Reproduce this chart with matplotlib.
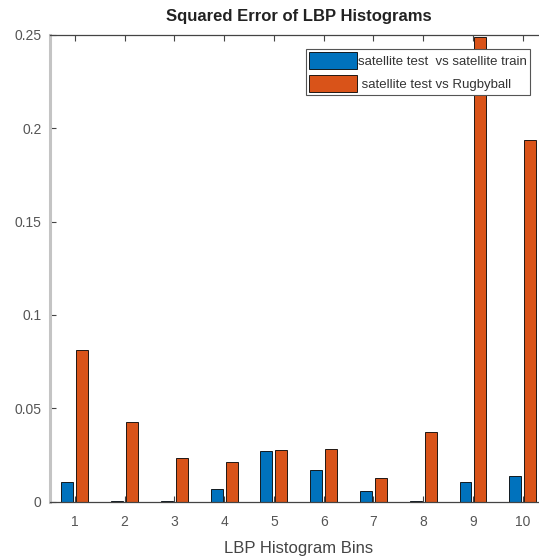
import numpy as np
from matplotlib import pyplot as plt

bins = list(range(1, 11))
train = [0.0105, 0.0003, 0.0003, 0.0070, 0.0273, 0.0171, 0.0058, 0.0003, 0.0103, 0.0139]
rugby = [0.0810, 0.0424, 0.0235, 0.0213, 0.0278, 0.0284, 0.0125, 0.0373, 0.2490, 0.1940]
legend_labels = ["satellite test  vs satellite train", " satellite test vs Rugbyball"]

plt.rcParams["font.family"] = ["Liberation Sans", "DejaVu Sans"]

fig = plt.figure(figsize=(5.39, 5.60), dpi=100)
W, H = 539, 560
ax = fig.add_axes([50 / W, 1 - 501.6 / H, 497.6 / W, 466.6 / H])

x = np.array(bins)
ax.bar(x - 0.15, train, width=0.24, color="#0072BD", edgecolor="black", linewidth=0.6,
       label=legend_labels[0])
ax.bar(x + 0.15, rugby, width=0.24, color="#D95319", edgecolor="black", linewidth=0.6,
       label=legend_labels[1])

ax.set_xlim(0.5, 10.5)
ax.set_ylim(0, 0.25)
ax.set_xticks(bins)
ax.set_yticks([0, 0.05, 0.1, 0.15, 0.2, 0.25])
ax.set_yticklabels(["0", "0.05", "0.1", "0.15", "0.2", "0.25"])
ax.tick_params(direction="in", top=True, right=True, length=4, width=0.8,
               colors="#444444", labelcolor="#555555", labelsize=10)
ax.tick_params(axis="x", pad=10)
ax.tick_params(axis="y", pad=6)
for s in ["top", "bottom", "right"]:
    ax.spines[s].set_color("#444444")
    ax.spines[s].set_linewidth(0.9)
ax.spines["left"].set_color("#c4c4c4")
ax.spines["left"].set_linewidth(2.2)

ax.set_title("Squared Error of LBP Histograms", fontsize=12, fontweight="bold",
             color="#222222", pad=10)
ax.set_xlabel("LBP Histogram Bins", fontsize=12, color="#444444", labelpad=8)

leg = ax.legend(loc="upper right", bbox_to_anchor=(530 / W, 1 - 49 / H),
                bbox_transform=fig.transFigure, fontsize=9.5, frameon=True,
                fancybox=False, edgecolor="#555555", framealpha=1,
                handlelength=3.6, handleheight=1.6, handletextpad=0.1,
                borderpad=0.25, labelspacing=0.45, borderaxespad=0)
leg.get_frame().set_linewidth(0.8)
for t in leg.get_texts():
    t.set_color("#333333")

fig.savefig("out.png", dpi=100)
